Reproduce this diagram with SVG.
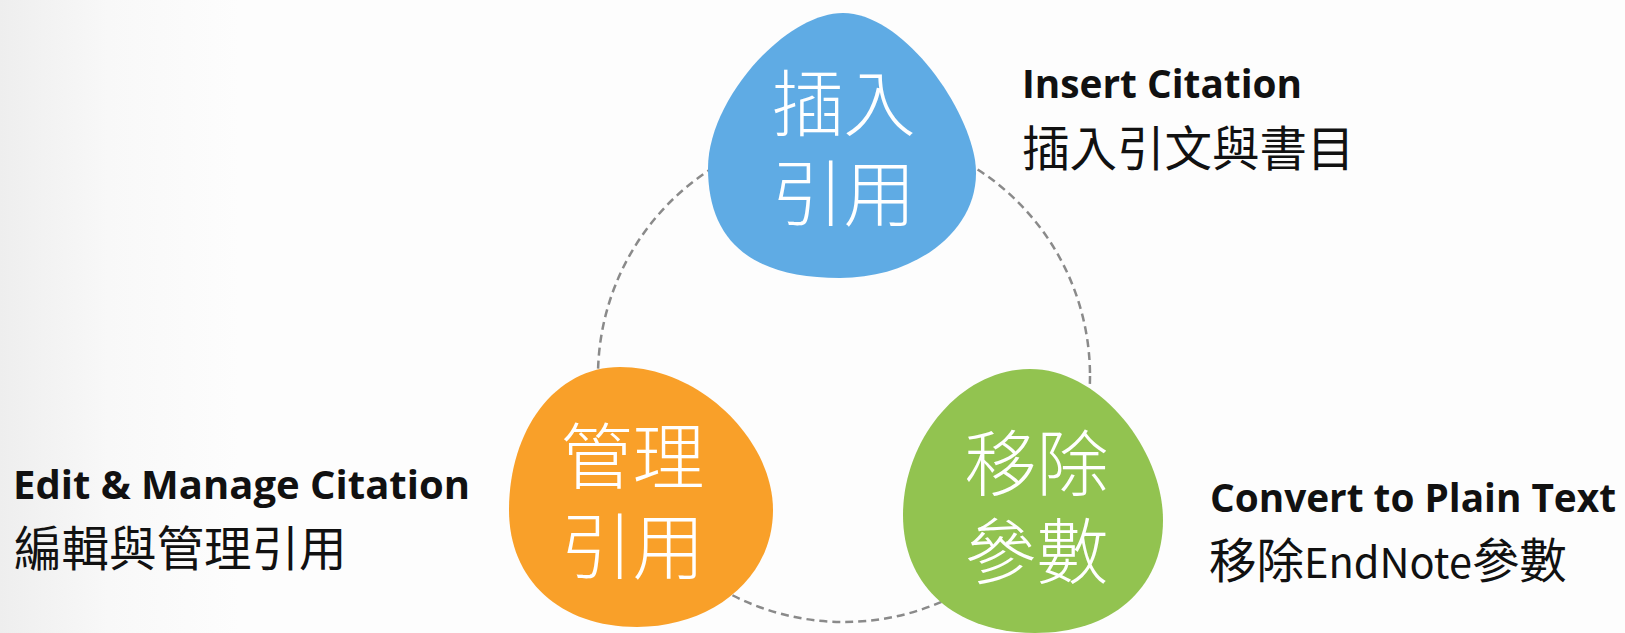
<svg xmlns="http://www.w3.org/2000/svg" width="1625" height="633" viewBox="0 0 1625 633">
  <defs>
    <linearGradient id="bg" x1="0" y1="0" x2="240" y2="0" gradientUnits="userSpaceOnUse">
      <stop offset="0" stop-color="#eeeeee"/>
      <stop offset="0.45" stop-color="#f8f8f8"/>
      <stop offset="1" stop-color="#fdfdfd"/>
    </linearGradient>
  </defs>
  <style>
    .ring { fill: none; stroke: #8a8a8a; stroke-width: 2.5; stroke-dasharray: 8 5; }
    .blobtext { font-family: "Noto Sans CJK TC", "Noto Sans CJK SC", sans-serif; font-weight: 300; font-size: 72px; fill: #ffffff; text-anchor: middle; }
    .en { font-family: "Open Sans", "Liberation Sans", sans-serif; font-weight: 700; font-size: 39.5px; fill: #111111; }
    .zh { font-family: "Noto Sans CJK TC", "Noto Sans CJK SC", sans-serif; font-weight: 400; font-size: 47.5px; fill: #111111; }
  </style>
  <rect x="0" y="0" width="1625" height="633" fill="url(#bg)"/>

  <g id="connectors">
    <circle class="ring" cx="844" cy="376" r="246"/>
  </g>

  <g id="node-insert">
    <path d="M 843,13 C 900,13 965,100 975,160 C 985,225 920,278 840,278 C 750,278 708,240 708,168 C 708,100 785,13 843,13 Z" fill="#5FABE4"/>
    <text class="blobtext"><tspan x="843.5" y="130">插入</tspan><tspan x="843.5" y="220">引用</tspan></text>
  </g>

  <g id="node-manage">
    <path d="M 620,367 C 700,367 773,440 773,510 C 773,580 710,627 637,627 C 560,627 509,580 509,510 C 509,430 555,367 620,367 Z" fill="#F9A029"/>
    <text class="blobtext"><tspan x="632.5" y="483">管理</tspan><tspan x="632.5" y="573">引用</tspan></text>
  </g>

  <g id="node-convert">
    <path d="M 1030,369 C 1100,369 1163,450 1163,520 C 1163,590 1110,633 1035,633 C 960,633 903,590 903,515 C 903,440 960,369 1030,369 Z" fill="#92C350"/>
    <text class="blobtext"><tspan x="1036.5" y="490">移除</tspan><tspan x="1036.5" y="578">參數</tspan></text>
  </g>

  <g id="label-insert">
    <text class="en" x="1022" y="98" textLength="280" lengthAdjust="spacingAndGlyphs">Insert Citation</text>
    <text class="zh" x="1022" y="166" font-weight="500">插入引文與書目</text>
  </g>

  <g id="label-manage">
    <text class="en" x="13" y="499" textLength="457" lengthAdjust="spacingAndGlyphs">Edit &amp; Manage Citation</text>
    <text class="zh" x="14" y="566" font-size="48">編輯與管理引用</text>
  </g>

  <g id="label-convert">
    <text class="en" x="1210" y="512" textLength="406" lengthAdjust="spacingAndGlyphs">Convert to Plain Text</text>
    <text class="zh" x="1209" y="578">移除<tspan font-size="41.5">EndNote</tspan>參數</text>
  </g>
</svg>
